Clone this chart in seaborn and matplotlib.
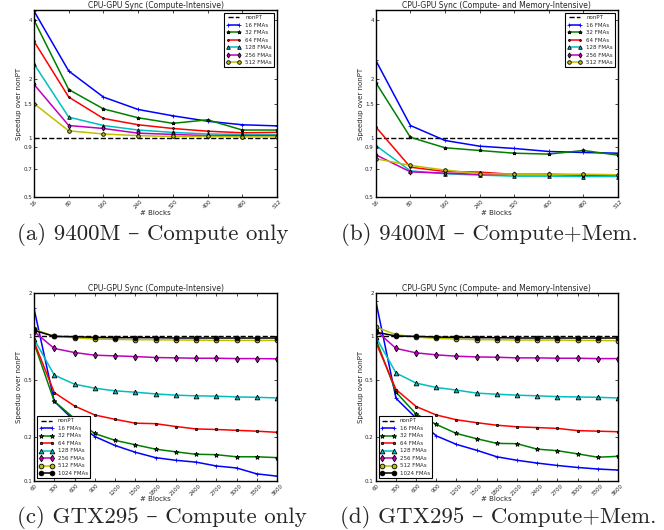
import matplotlib
matplotlib.use("Agg")
import matplotlib.pyplot as plt
import seaborn as sns
from matplotlib.ticker import NullLocator, FixedLocator, FixedFormatter

# x categories
BLOCKS_9400M = [16, 80, 160, 240, 320, 400, 480, 512]
BLOCKS_GTX295 = [60, 300, 600, 900, 1200, 1500, 1800, 2100, 2400, 2700, 3000, 3300, 3600]

NONPT = 1.0

# (a) 9400M - compute only
sync_9400m_comp = {
    "16 FMAs": [4.45, 2.20, 1.62, 1.40, 1.30, 1.22, 1.17, 1.155],
    "32 FMAs": [4.0, 1.77, 1.41, 1.27, 1.19, 1.24, 1.10, 1.10],
    "64 FMAs": [3.12, 1.62, 1.26, 1.17, 1.12, 1.085, 1.065, 1.07],
    "128 FMAs": [2.39, 1.28, 1.16, 1.10, 1.07, 1.05, 1.045, 1.04],
    "256 FMAs": [1.88, 1.16, 1.12, 1.06, 1.045, 1.03, 1.03, 1.03],
    "512 FMAs": [1.50, 1.09, 1.05, 1.03, 1.02, 1.02, 1.015, 1.015],
}

# (b) 9400M - compute + memory
sync_9400m_mem = {
    "16 FMAs": [2.49, 1.16, 0.973, 0.91, 0.886, 0.855, 0.845, 0.838],
    "32 FMAs": [1.92, 1.01, 0.893, 0.865, 0.838, 0.829, 0.865, 0.819],
    "64 FMAs": [1.14, 0.711, 0.676, 0.671, 0.653, 0.653, 0.648, 0.642],
    "128 FMAs": [0.917, 0.681, 0.658, 0.648, 0.640, 0.640, 0.637, 0.637],
    "256 FMAs": [0.822, 0.673, 0.663, 0.653, 0.653, 0.653, 0.650, 0.650],
    "512 FMAs": [0.785, 0.726, 0.687, 0.660, 0.655, 0.653, 0.655, 0.650],
}

# (c) GTX295 - compute only
sync_gtx295_comp = {
    "16 FMAs": [1.56, 0.356, 0.26, 0.203, 0.176, 0.158, 0.145, 0.139, 0.135, 0.127, 0.123, 0.112, 0.108],
    "32 FMAs": [0.90, 0.356, 0.27, 0.213, 0.191, 0.178, 0.166, 0.159, 0.153, 0.152, 0.147, 0.147, 0.145],
    "64 FMAs": [0.92, 0.409, 0.330, 0.286, 0.267, 0.251, 0.249, 0.238, 0.229, 0.227, 0.224, 0.221, 0.217],
    "128 FMAs": [0.96, 0.540, 0.467, 0.438, 0.420, 0.411, 0.400, 0.392, 0.388, 0.386, 0.381, 0.379, 0.375],
    "256 FMAs": [1.08, 0.825, 0.773, 0.741, 0.733, 0.725, 0.714, 0.710, 0.706, 0.706, 0.702, 0.702, 0.699],
    "512 FMAs": [1.12, 1.0, 0.979, 0.958, 0.953, 0.948, 0.948, 0.943, 0.943, 0.938, 0.938, 0.938, 0.938],
    "1024 FMAs": [1.10, 1.0, 0.995, 0.984, 0.979, 0.979, 0.979, 0.974, 0.974, 0.974, 0.974, 0.974, 0.974],
}

# (d) GTX295 - compute + memory
sync_gtx295_mem = {
    "16 FMAs": [1.75, 0.373, 0.272, 0.205, 0.179, 0.163, 0.147, 0.139, 0.133, 0.128, 0.124, 0.121, 0.119],
    "32 FMAs": [0.96, 0.411, 0.290, 0.246, 0.213, 0.196, 0.182, 0.181, 0.166, 0.162, 0.154, 0.146, 0.148],
    "64 FMAs": [0.91, 0.429, 0.327, 0.286, 0.265, 0.253, 0.243, 0.237, 0.234, 0.231, 0.223, 0.221, 0.219],
    "128 FMAs": [0.99, 0.558, 0.475, 0.443, 0.425, 0.405, 0.398, 0.392, 0.388, 0.383, 0.381, 0.379, 0.375],
    "256 FMAs": [1.10, 0.825, 0.769, 0.745, 0.729, 0.721, 0.717, 0.710, 0.710, 0.706, 0.706, 0.702, 0.702],
    "512 FMAs": [1.16, 1.027, 0.989, 0.968, 0.958, 0.948, 0.948, 0.943, 0.943, 0.943, 0.938, 0.938, 0.933],
    "1024 FMAs": [1.07, 1.005, 1.0, 0.989, 0.984, 0.979, 0.979, 0.974, 0.974, 0.974, 0.974, 0.974, 0.974],
}

YTICKS_9400M = [0.5, 0.7, 0.9, 1, 1.5, 2, 4]
YTICKS_GTX295 = [0.1, 0.2, 0.5, 1, 2]

# old matplotlib look: pure colours, black marker edges
estilo = {
    "16 FMAs": ("#0000ff", "+"),
    "32 FMAs": ("#008000", "*"),
    "64 FMAs": ("#ff0000", "."),
    "128 FMAs": ("#00bfbf", "^"),
    "256 FMAs": ("#bf00bf", "d"),
    "512 FMAs": ("#bfbf00", "o"),
    "1024 FMAs": ("#000000", "o"),
}

sns.set_style("ticks")
plt.rcParams["font.family"] = ["DejaVu Sans"]


def desenhar(ax, blocks, series, title, yticks, ylim, loc, fs, ms):
    cats = [str(b) for b in blocks]
    ax.axhline(NONPT, ls="--", color="k", lw=1, label="nonPT")
    for nome, vals in series.items():
        cor, mk = estilo[nome]
        mec = cor if mk == "+" else "k"
        sns.lineplot(x=cats, y=vals, ax=ax, color=cor, marker=mk, markersize=ms,
                     markeredgecolor=mec, markeredgewidth=0.6, lw=1.1,
                     label=nome, errorbar=None, sort=False)
    ax.set_yscale("log")
    ax.set_ylim(*ylim)
    ax.set_xlim(0, len(cats) - 1)
    ax.yaxis.set_major_locator(FixedLocator(yticks))
    ax.yaxis.set_major_formatter(FixedFormatter([f"{t:g}" for t in yticks]))
    ax.yaxis.set_minor_locator(NullLocator())
    ax.tick_params(axis="both", direction="in", length=2, width=0.6, labelsize=4,
                   top=True, right=True, pad=1.5)
    ax.tick_params(axis="x", labelrotation=45)
    for s in ax.spines.values():
        s.set_linewidth(1)
        s.set_color("k")
    ax.set_title(title, fontsize=5.5, pad=1.5)
    ax.set_xlabel("# Blocks", fontsize=fs, labelpad=0)
    ax.set_ylabel("Speedup over nonPT", fontsize=fs, labelpad=1)
    leg = ax.legend(loc=loc, fontsize=4, numpoints=2, handlelength=2.6,
                    labelspacing=0.45, borderaxespad=0.5, fancybox=False,
                    framealpha=1, borderpad=0.4, handletextpad=0.8)
    leg.get_frame().set_edgecolor("k")
    leg.get_frame().set_linewidth(0.8)


fig = plt.figure(figsize=(6.64, 5.30), dpi=100)
ax_a = fig.add_axes([0.0512, 0.628, 0.366, 0.353])
ax_b = fig.add_axes([0.566, 0.628, 0.3645, 0.353])
ax_c = fig.add_axes([0.0512, 0.0925, 0.366, 0.355])
ax_d = fig.add_axes([0.566, 0.0925, 0.3645, 0.355])

desenhar(ax_a, BLOCKS_9400M, sync_9400m_comp, "CPU-GPU Sync (Compute-Intensive)",
         YTICKS_9400M, (0.5, 4.5), "upper right", 5, 2.6)
desenhar(ax_b, BLOCKS_9400M, sync_9400m_mem, "CPU-GPU Sync (Compute- and Memory-Intensive)",
         YTICKS_9400M, (0.5, 4.5), "upper right", 5, 2.6)
desenhar(ax_c, BLOCKS_GTX295, sync_gtx295_comp, "CPU-GPU Sync (Compute-Intensive)",
         YTICKS_GTX295, (0.1, 2), "lower left", 5, 3.4)
desenhar(ax_d, BLOCKS_GTX295, sync_gtx295_mem, "CPU-GPU Sync (Compute- and Memory-Intensive)",
         YTICKS_GTX295, (0.1, 2), "lower left", 5, 3.4)

legendas = ["(a) 9400M – Compute only", "(b) 9400M – Compute+Mem.",
            "(c) GTX295 – Compute only", "(d) GTX295 – Compute+Mem."]
posicoes = [(0.026, 0.557), (0.513, 0.557), (0.026, 0.024), (0.512, 0.024)]
for txt, (px, py) in zip(legendas, posicoes):
    fig.text(px, py, txt, fontsize=16.5, family=["cmr10", "DejaVu Serif"],
             ha="left", va="center")

fig.savefig("out.png", dpi=100)
